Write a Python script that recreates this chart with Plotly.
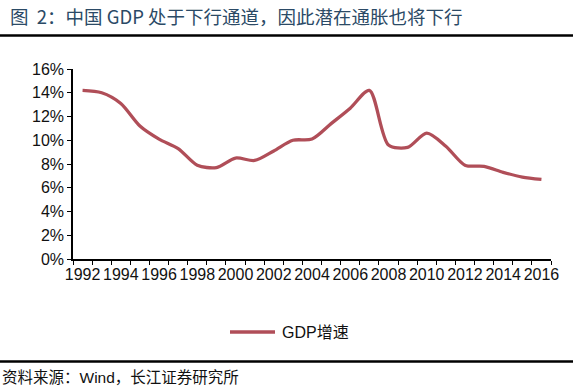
import plotly.graph_objects as go

years = list(range(1992, 2017))
gdp_growth = [14.2, 14.0, 13.1, 11.2, 10.1, 9.3, 7.9, 7.7, 8.5, 8.3, 9.1, 10.0,
              10.1, 11.4, 12.7, 14.2, 9.6, 9.4, 10.6, 9.5, 7.9, 7.8, 7.3, 6.9, 6.7]
x_labels = [str(y) for y in range(1992, 2017, 2)]
series_name = "GDP增速"
title_text = "图  2：中国 GDP 处于下行通道，因此潜在通胀也将下行"
source_text = "资料来源：Wind，长江证券研究所"

W, H = 573, 392
L, R, T, B = 73, 551, 69, 259
pw, ph = R - L, B - T
LINE_COLOR = "#B04E58"

def px_x(x):
    return (x - L) / pw

def px_y(y):
    return (B - y) / ph

fig = go.Figure()
fig.add_trace(go.Scatter(
    x=years, y=gdp_growth, mode="lines", name=series_name,
    line=dict(color=LINE_COLOR, width=3.3, shape="spline", smoothing=0.8),
    showlegend=False,
))

fig.update_layout(
    width=W, height=H,
    margin=dict(l=L, r=W - R, t=T, b=H - B, pad=0, autoexpand=False),
    paper_bgcolor="white", plot_bgcolor="white",
    font=dict(family="Liberation Sans, Arial, sans-serif", size=16, color="#111111"),
    showlegend=False,
    xaxis=dict(
        range=[1991.5, 2016.5], tickmode="array",
        tickvals=[int(s) for s in x_labels], ticktext=x_labels,
        ticks="", showgrid=False, zeroline=False,
        showline=True, linecolor="black", linewidth=1.5,
        tickfont=dict(size=16),
        minor=dict(tickmode="array", tickvals=[y - 0.5 for y in years] + [years[-1] + 0.5],
                   ticks="outside", ticklen=4, tickcolor="black", tickwidth=1.2, showgrid=False),
    ),
    yaxis=dict(
        range=[0, 16], dtick=2, ticksuffix="%",
        ticks="outside", ticklen=4, tickcolor="black", tickwidth=1.2,
        showgrid=False, zeroline=False,
        showline=True, linecolor="black", linewidth=1.5,
        tickfont=dict(size=16),
    ),
    shapes=[
        dict(type="line", xref="paper", yref="paper", x0=px_x(0), x1=px_x(W),
             y0=px_y(35.5), y1=px_y(35.5), line=dict(color="black", width=2.5)),
        dict(type="line", xref="paper", yref="paper", x0=px_x(0), x1=px_x(W),
             y0=px_y(361.5), y1=px_y(361.5), line=dict(color="black", width=2.5)),
        # legend sample line
        dict(type="line", xref="paper", yref="paper", x0=px_x(230), x1=px_x(275),
             y0=px_y(332), y1=px_y(332), line=dict(color=LINE_COLOR, width=3.3)),
    ],
    annotations=[
        dict(text=title_text, xref="paper", yref="paper", x=px_x(8), y=px_y(16),
             xanchor="left", yanchor="middle", showarrow=False,
             font=dict(family="Noto Sans CJK SC, sans-serif", size=18.5, color="#2B4A66")),
        dict(text=series_name, xref="paper", yref="paper", x=px_x(280), y=px_y(332),
             xanchor="left", yanchor="middle", showarrow=False,
             font=dict(family="Liberation Sans, Noto Sans CJK SC, sans-serif", size=16, color="#111111")),
        dict(text=source_text, xref="paper", yref="paper", x=px_x(0), y=px_y(377),
             xanchor="left", yanchor="middle", showarrow=False,
             font=dict(family="Liberation Sans, Noto Sans CJK SC, sans-serif", size=15.5, color="#111111")),
    ],
)

fig.write_html(
    "out.html",
    config={"displayModeBar": False},
    post_script="document.body.style.margin='0';document.body.style.padding='0';document.documentElement.style.overflow='hidden';",
)
